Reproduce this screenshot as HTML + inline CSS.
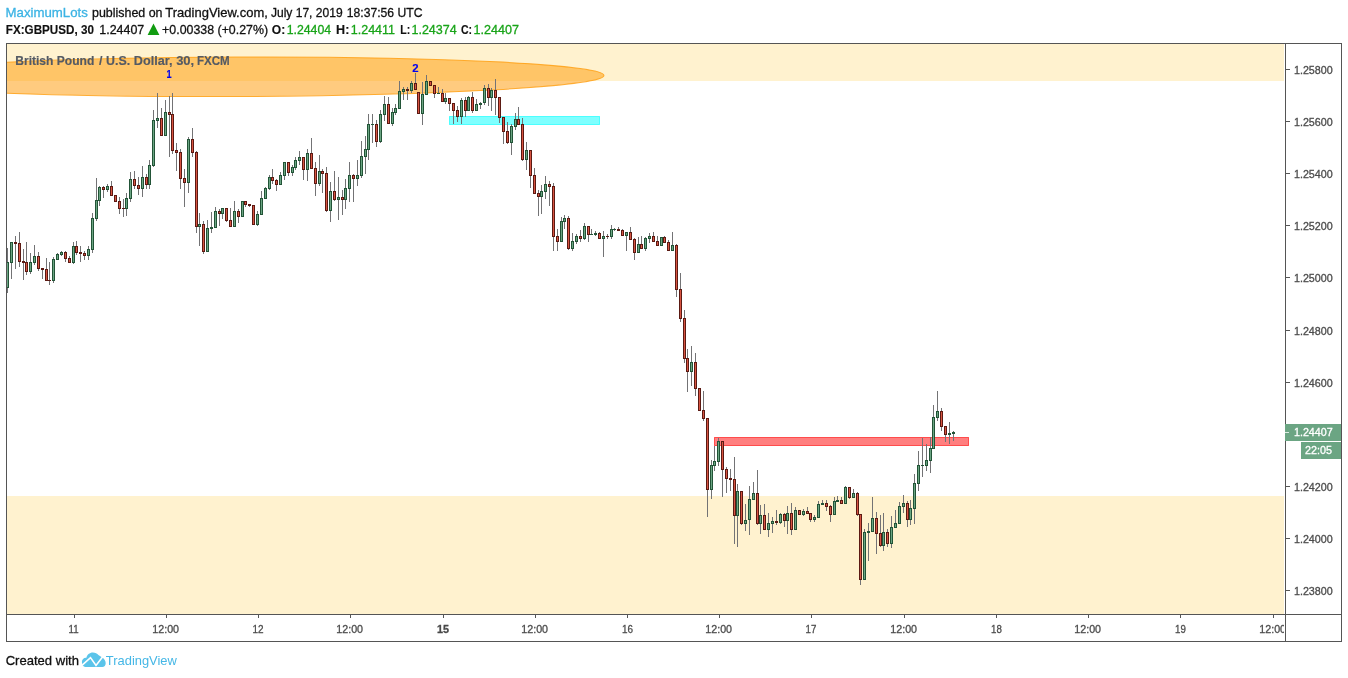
<!DOCTYPE html>
<html><head><meta charset="utf-8"><title>GBPUSD chart</title>
<style>html,body{margin:0;padding:0;background:#fff;}body{width:1348px;height:678px;overflow:hidden;font-family:"Liberation Sans", sans-serif;}svg{display:block;will-change:transform;}text{font-family:"Liberation Sans", sans-serif;}</style>
</head><body>
<svg width="1348" height="678" viewBox="0 0 1348 678">
<rect x="0" y="0" width="1348" height="678" fill="#ffffff"/>
<text x="5.60" y="17.0" font-size="13.3" fill="#3bb3e4" stroke="#3bb3e4" stroke-width="0.3" textLength="82.27" lengthAdjust="spacingAndGlyphs">MaximumLots</text>
<text x="92.00" y="17.0" font-size="13.3" fill="#111111" stroke="#111111" stroke-width="0.3" textLength="70.53" lengthAdjust="spacingAndGlyphs">published on</text>
<text x="165.35" y="17.0" font-size="13.3" fill="#111111" stroke="#111111" stroke-width="0.3" textLength="102.52" lengthAdjust="spacingAndGlyphs">TradingView.com,</text>
<text x="270.90" y="17.0" font-size="13.3" fill="#111111" stroke="#111111" stroke-width="0.3" textLength="71.75" lengthAdjust="spacingAndGlyphs">July 17, 2019</text>
<text x="346.75" y="17.0" font-size="13.3" fill="#111111" stroke="#111111" stroke-width="0.3" textLength="75.76" lengthAdjust="spacingAndGlyphs">18:37:56 UTC</text>
<text x="5.85" y="34.0" font-size="13.3" fill="#111111" font-weight="bold" stroke="#111111" stroke-width="0.15" textLength="88.02" lengthAdjust="spacingAndGlyphs">FX:GBPUSD, 30</text>
<text x="99.25" y="34.0" font-size="13.3" fill="#111111" stroke="#111111" stroke-width="0.3" textLength="45.04" lengthAdjust="spacingAndGlyphs">1.24407</text>
<text x="162.10" y="34.0" font-size="13.3" fill="#111111" stroke="#111111" stroke-width="0.3" textLength="106.01" lengthAdjust="spacingAndGlyphs">+0.00338 (+0.27%)</text>
<text x="271.80" y="34.0" font-size="13.3" fill="#111111" font-weight="bold" stroke="#111111" stroke-width="0.15" textLength="13.40" lengthAdjust="spacingAndGlyphs">O:</text>
<text x="286.65" y="34.0" font-size="13.3" fill="#18a418" stroke="#18a418" stroke-width="0.3" textLength="44.52" lengthAdjust="spacingAndGlyphs">1.24404</text>
<text x="336.05" y="34.0" font-size="13.3" fill="#111111" font-weight="bold" stroke="#111111" stroke-width="0.15" textLength="13.27" lengthAdjust="spacingAndGlyphs">H:</text>
<text x="350.75" y="34.0" font-size="13.3" fill="#18a418" stroke="#18a418" stroke-width="0.3" textLength="44.28" lengthAdjust="spacingAndGlyphs">1.24411</text>
<text x="400.20" y="34.0" font-size="13.3" fill="#111111" font-weight="bold" stroke="#111111" stroke-width="0.15" textLength="9.97" lengthAdjust="spacingAndGlyphs">L:</text>
<text x="411.45" y="34.0" font-size="13.3" fill="#18a418" stroke="#18a418" stroke-width="0.3" textLength="45.27" lengthAdjust="spacingAndGlyphs">1.24374</text>
<text x="460.95" y="34.0" font-size="13.3" fill="#111111" font-weight="bold" stroke="#111111" stroke-width="0.15" textLength="11.11" lengthAdjust="spacingAndGlyphs">C:</text>
<text x="473.45" y="34.0" font-size="13.3" fill="#18a418" stroke="#18a418" stroke-width="0.3" textLength="45.54" lengthAdjust="spacingAndGlyphs">1.24407</text>
<polygon points="147.6,35 159.4,35 153.5,23.6" fill="#119c11"/>
<defs><clipPath id="pane"><rect x="7" y="44" width="1277" height="570"/></clipPath><clipPath id="tclip"><rect x="7" y="615" width="1277" height="26"/></clipPath></defs>
<g clip-path="url(#pane)">
<rect x="7" y="44" width="1278" height="37" fill="#fff2cf"/>
<rect x="7" y="496" width="1278" height="118" fill="#fff2cf"/>
<ellipse cx="235" cy="76.8" rx="369" ry="19.7" transform="rotate(-0.22 235 76.8)" fill="#ff9800" fill-opacity="0.5" stroke="#ff9800" stroke-opacity="0.75" stroke-width="1"/>
<rect x="449.5" y="116.5" width="150" height="8" fill="#00ffff" fill-opacity="0.5" stroke="#00ffff" stroke-opacity="0.6" stroke-width="1"/>
<rect x="714.5" y="437.5" width="254" height="8" fill="#ff0000" fill-opacity="0.5" stroke="#ff0000" stroke-opacity="0.6" stroke-width="1"/>
<g shape-rendering="crispEdges">
<path d="M7 248V293M11 242V279M15 236V269M19 232V267M23 249V280M26 242V275M30 253V274M34 245V265M38 252V271M42 268V279M46 258V281M49 262V285M53 257V283M57 253V260M61 251V256M65 251V262M69 256V263M73 242V264M76 241V255M80 246V262M84 251V260M88 246V260M92 213V253M96 178V221M99 186V206M103 186V198M107 184V192M111 181V196M115 195V202M119 197V214M123 199V217M126 193V216M130 172V202M134 171V189M138 177V195M142 166V197M146 174V189M149 160V189M153 110V167M157 93V128M161 108V136M165 100V136M169 96V157M172 93V154M176 143V171M180 149V189M184 169V207M188 137V193M192 128V157M196 151V233M199 213V246M203 221V254M207 220V252M211 212V233M215 207V228M219 209V226M222 208V219M226 208V222M230 208V227M234 201V227M238 209V223M242 201V217M245 201V207M249 204V207M253 205V225M257 211V226M261 191V215M265 187V199M269 175V190M272 169V184M276 179V191M280 172V185M284 162V180M288 162V176M292 165V176M295 157V170M299 151V165M303 157V180M307 149V181M311 138V169M315 162V196M319 155V186M322 169V193M326 167V212M330 182V222M334 171V201M338 177V220M342 190V215M345 179V209M349 162V202M353 174V202M357 160V186M361 141V178M365 136V174M368 114V160M372 114V143M376 120V147M380 110V143M384 96V121M388 97V124M392 108V126M395 104V115M399 81V109M403 87V100M407 87V100M411 81V93M415 73V90M418 92V114M422 82V125M426 75V95M430 81V86M434 85V98M438 87V94M442 89V102M445 93V104M449 98V111M453 103V124M457 106V122M461 98V124M465 97V117M468 96V111M472 92V113M476 99V111M480 102V109M484 85V105M488 84V106M491 88V111M495 79V115M499 97V123M503 117V144M507 122V144M511 124V155M515 113V130M518 107V125M522 118V161M526 142V170M530 150V188M534 168V194M538 190V216M541 185V214M545 176V199M549 181V206M553 183V251M557 229V251M561 217V242M564 215V229M568 216V250M572 233V251M576 234V244M580 230V242M584 223V240M588 226V242M591 229V235M595 231V236M599 232V239M603 231V257M607 234V239M611 225V239M614 228V231M618 227V231M622 229V236M626 232V251M630 227V240M634 238V260M638 237V253M641 236V249M645 237V251M649 233V243M653 232V242M657 236V246M661 237V246M664 236V243M668 240V251M672 232V251M676 244V297M680 273V322M684 310V363M687 349V392M691 346V386M695 353V396M699 388V411M703 391V421M707 418V517M711 460V499M714 446V471M718 438V466M722 441V497M726 467V493M730 469V491M734 457V544M737 484V547M741 491V525M745 504V531M749 486V535M753 482V500M757 470V525M760 505V534M764 504V530M768 513V537M772 517V533M776 510V525M780 513V524M784 513V527M787 506V534M791 503V535M795 507V530M799 510V515M803 509V516M807 507V514M810 513V522M814 515V522M818 501V518M822 500V505M826 500V511M830 505V522M834 497V515M837 496V502M841 497V504M845 486V504M849 487V499M853 489V498M857 492V516M860 514V585M864 529V580M868 523V561M872 497V532M876 512V554M880 515V547M883 513V551M887 529V547M891 516V548M895 510V528M899 502V524M903 495V513M907 501V527M910 500V525M914 474V524M918 451V491M922 438V477M926 444V471M930 437V473M933 405V449M937 391V421M941 408V431M945 426V442M949 422V444M953 431V441" stroke="#737375" stroke-width="1" fill="none" transform="translate(0.5,0)"/>
<rect x="6" y="262" width="3" height="26" fill="#225437"/>
<rect x="7" y="263" width="1" height="24" fill="#6ba583"/>
<rect x="10" y="242" width="3" height="21" fill="#225437"/>
<rect x="11" y="243" width="1" height="19" fill="#6ba583"/>
<rect x="14" y="242" width="3" height="2" fill="#5b1a13"/>
<rect x="18" y="243" width="3" height="19" fill="#5b1a13"/>
<rect x="19" y="244" width="1" height="17" fill="#d75442"/>
<rect x="22" y="261" width="3" height="2" fill="#5b1a13"/>
<rect x="25" y="262" width="3" height="10" fill="#5b1a13"/>
<rect x="26" y="263" width="1" height="8" fill="#d75442"/>
<rect x="29" y="262" width="3" height="10" fill="#225437"/>
<rect x="30" y="263" width="1" height="8" fill="#6ba583"/>
<rect x="33" y="256" width="3" height="7" fill="#225437"/>
<rect x="34" y="257" width="1" height="5" fill="#6ba583"/>
<rect x="37" y="256" width="3" height="13" fill="#5b1a13"/>
<rect x="38" y="257" width="1" height="11" fill="#d75442"/>
<rect x="41" y="268" width="3" height="2" fill="#5b1a13"/>
<rect x="45" y="269" width="3" height="12" fill="#5b1a13"/>
<rect x="46" y="270" width="1" height="10" fill="#d75442"/>
<rect x="48" y="280" width="3" height="1" fill="#5b1a13"/>
<rect x="52" y="259" width="3" height="22" fill="#225437"/>
<rect x="53" y="260" width="1" height="20" fill="#6ba583"/>
<rect x="56" y="254" width="3" height="6" fill="#225437"/>
<rect x="57" y="255" width="1" height="4" fill="#6ba583"/>
<rect x="60" y="252" width="3" height="3" fill="#225437"/>
<rect x="61" y="253" width="1" height="1" fill="#6ba583"/>
<rect x="64" y="252" width="3" height="7" fill="#5b1a13"/>
<rect x="65" y="253" width="1" height="5" fill="#d75442"/>
<rect x="68" y="258" width="3" height="5" fill="#5b1a13"/>
<rect x="69" y="259" width="1" height="3" fill="#d75442"/>
<rect x="72" y="246" width="3" height="17" fill="#225437"/>
<rect x="73" y="247" width="1" height="15" fill="#6ba583"/>
<rect x="75" y="246" width="3" height="7" fill="#5b1a13"/>
<rect x="76" y="247" width="1" height="5" fill="#d75442"/>
<rect x="79" y="252" width="3" height="2" fill="#5b1a13"/>
<rect x="83" y="253" width="3" height="3" fill="#5b1a13"/>
<rect x="84" y="254" width="1" height="1" fill="#d75442"/>
<rect x="87" y="249" width="3" height="7" fill="#225437"/>
<rect x="88" y="250" width="1" height="5" fill="#6ba583"/>
<rect x="91" y="218" width="3" height="32" fill="#225437"/>
<rect x="92" y="219" width="1" height="30" fill="#6ba583"/>
<rect x="95" y="200" width="3" height="19" fill="#225437"/>
<rect x="96" y="201" width="1" height="17" fill="#6ba583"/>
<rect x="98" y="187" width="3" height="14" fill="#225437"/>
<rect x="99" y="188" width="1" height="12" fill="#6ba583"/>
<rect x="102" y="187" width="3" height="3" fill="#5b1a13"/>
<rect x="103" y="188" width="1" height="1" fill="#d75442"/>
<rect x="106" y="186" width="3" height="4" fill="#225437"/>
<rect x="107" y="187" width="1" height="2" fill="#6ba583"/>
<rect x="110" y="186" width="3" height="10" fill="#5b1a13"/>
<rect x="111" y="187" width="1" height="8" fill="#d75442"/>
<rect x="114" y="195" width="3" height="7" fill="#5b1a13"/>
<rect x="115" y="196" width="1" height="5" fill="#d75442"/>
<rect x="118" y="201" width="3" height="8" fill="#5b1a13"/>
<rect x="119" y="202" width="1" height="6" fill="#d75442"/>
<rect x="122" y="208" width="3" height="1" fill="#5b1a13"/>
<rect x="125" y="198" width="3" height="11" fill="#225437"/>
<rect x="126" y="199" width="1" height="9" fill="#6ba583"/>
<rect x="129" y="179" width="3" height="20" fill="#225437"/>
<rect x="130" y="180" width="1" height="18" fill="#6ba583"/>
<rect x="133" y="179" width="3" height="7" fill="#5b1a13"/>
<rect x="134" y="180" width="1" height="5" fill="#d75442"/>
<rect x="137" y="185" width="3" height="4" fill="#5b1a13"/>
<rect x="138" y="186" width="1" height="2" fill="#d75442"/>
<rect x="141" y="177" width="3" height="12" fill="#225437"/>
<rect x="142" y="178" width="1" height="10" fill="#6ba583"/>
<rect x="145" y="177" width="3" height="8" fill="#5b1a13"/>
<rect x="146" y="178" width="1" height="6" fill="#d75442"/>
<rect x="148" y="165" width="3" height="20" fill="#225437"/>
<rect x="149" y="166" width="1" height="18" fill="#6ba583"/>
<rect x="152" y="120" width="3" height="46" fill="#225437"/>
<rect x="153" y="121" width="1" height="44" fill="#6ba583"/>
<rect x="156" y="118" width="3" height="3" fill="#225437"/>
<rect x="157" y="119" width="1" height="1" fill="#6ba583"/>
<rect x="160" y="118" width="3" height="18" fill="#5b1a13"/>
<rect x="161" y="119" width="1" height="16" fill="#d75442"/>
<rect x="164" y="112" width="3" height="24" fill="#225437"/>
<rect x="165" y="113" width="1" height="22" fill="#6ba583"/>
<rect x="168" y="112" width="3" height="3" fill="#5b1a13"/>
<rect x="169" y="113" width="1" height="1" fill="#d75442"/>
<rect x="171" y="114" width="3" height="37" fill="#5b1a13"/>
<rect x="172" y="115" width="1" height="35" fill="#d75442"/>
<rect x="175" y="150" width="3" height="3" fill="#5b1a13"/>
<rect x="176" y="151" width="1" height="1" fill="#d75442"/>
<rect x="179" y="152" width="3" height="27" fill="#5b1a13"/>
<rect x="180" y="153" width="1" height="25" fill="#d75442"/>
<rect x="183" y="178" width="3" height="5" fill="#5b1a13"/>
<rect x="184" y="179" width="1" height="3" fill="#d75442"/>
<rect x="187" y="139" width="3" height="44" fill="#225437"/>
<rect x="188" y="140" width="1" height="42" fill="#6ba583"/>
<rect x="191" y="139" width="3" height="14" fill="#5b1a13"/>
<rect x="192" y="140" width="1" height="12" fill="#d75442"/>
<rect x="195" y="152" width="3" height="75" fill="#5b1a13"/>
<rect x="196" y="153" width="1" height="73" fill="#d75442"/>
<rect x="198" y="224" width="3" height="3" fill="#225437"/>
<rect x="199" y="225" width="1" height="1" fill="#6ba583"/>
<rect x="202" y="224" width="3" height="28" fill="#5b1a13"/>
<rect x="203" y="225" width="1" height="26" fill="#d75442"/>
<rect x="206" y="228" width="3" height="24" fill="#225437"/>
<rect x="207" y="229" width="1" height="22" fill="#6ba583"/>
<rect x="210" y="227" width="3" height="2" fill="#225437"/>
<rect x="214" y="211" width="3" height="17" fill="#225437"/>
<rect x="215" y="212" width="1" height="15" fill="#6ba583"/>
<rect x="218" y="211" width="3" height="3" fill="#5b1a13"/>
<rect x="219" y="212" width="1" height="1" fill="#d75442"/>
<rect x="221" y="208" width="3" height="6" fill="#225437"/>
<rect x="222" y="209" width="1" height="4" fill="#6ba583"/>
<rect x="225" y="208" width="3" height="13" fill="#5b1a13"/>
<rect x="226" y="209" width="1" height="11" fill="#d75442"/>
<rect x="229" y="220" width="3" height="7" fill="#5b1a13"/>
<rect x="230" y="221" width="1" height="5" fill="#d75442"/>
<rect x="233" y="211" width="3" height="16" fill="#225437"/>
<rect x="234" y="212" width="1" height="14" fill="#6ba583"/>
<rect x="237" y="211" width="3" height="6" fill="#5b1a13"/>
<rect x="238" y="212" width="1" height="4" fill="#d75442"/>
<rect x="241" y="201" width="3" height="16" fill="#225437"/>
<rect x="242" y="202" width="1" height="14" fill="#6ba583"/>
<rect x="244" y="201" width="3" height="4" fill="#5b1a13"/>
<rect x="245" y="202" width="1" height="2" fill="#d75442"/>
<rect x="248" y="204" width="3" height="2" fill="#5b1a13"/>
<rect x="252" y="205" width="3" height="20" fill="#5b1a13"/>
<rect x="253" y="206" width="1" height="18" fill="#d75442"/>
<rect x="256" y="214" width="3" height="11" fill="#225437"/>
<rect x="257" y="215" width="1" height="9" fill="#6ba583"/>
<rect x="260" y="198" width="3" height="17" fill="#225437"/>
<rect x="261" y="199" width="1" height="15" fill="#6ba583"/>
<rect x="264" y="188" width="3" height="11" fill="#225437"/>
<rect x="265" y="189" width="1" height="9" fill="#6ba583"/>
<rect x="268" y="177" width="3" height="12" fill="#225437"/>
<rect x="269" y="178" width="1" height="10" fill="#6ba583"/>
<rect x="271" y="177" width="3" height="4" fill="#5b1a13"/>
<rect x="272" y="178" width="1" height="2" fill="#d75442"/>
<rect x="275" y="180" width="3" height="5" fill="#5b1a13"/>
<rect x="276" y="181" width="1" height="3" fill="#d75442"/>
<rect x="279" y="175" width="3" height="10" fill="#225437"/>
<rect x="280" y="176" width="1" height="8" fill="#6ba583"/>
<rect x="283" y="162" width="3" height="14" fill="#225437"/>
<rect x="284" y="163" width="1" height="12" fill="#6ba583"/>
<rect x="287" y="162" width="3" height="11" fill="#5b1a13"/>
<rect x="288" y="163" width="1" height="9" fill="#d75442"/>
<rect x="291" y="167" width="3" height="6" fill="#225437"/>
<rect x="292" y="168" width="1" height="4" fill="#6ba583"/>
<rect x="294" y="160" width="3" height="8" fill="#225437"/>
<rect x="295" y="161" width="1" height="6" fill="#6ba583"/>
<rect x="298" y="157" width="3" height="4" fill="#225437"/>
<rect x="299" y="158" width="1" height="2" fill="#6ba583"/>
<rect x="302" y="157" width="3" height="13" fill="#5b1a13"/>
<rect x="303" y="158" width="1" height="11" fill="#d75442"/>
<rect x="306" y="153" width="3" height="17" fill="#225437"/>
<rect x="307" y="154" width="1" height="15" fill="#6ba583"/>
<rect x="310" y="153" width="3" height="16" fill="#5b1a13"/>
<rect x="311" y="154" width="1" height="14" fill="#d75442"/>
<rect x="314" y="168" width="3" height="16" fill="#5b1a13"/>
<rect x="315" y="169" width="1" height="14" fill="#d75442"/>
<rect x="318" y="171" width="3" height="13" fill="#225437"/>
<rect x="319" y="172" width="1" height="11" fill="#6ba583"/>
<rect x="321" y="171" width="3" height="3" fill="#5b1a13"/>
<rect x="322" y="172" width="1" height="1" fill="#d75442"/>
<rect x="325" y="173" width="3" height="38" fill="#5b1a13"/>
<rect x="326" y="174" width="1" height="36" fill="#d75442"/>
<rect x="329" y="191" width="3" height="20" fill="#225437"/>
<rect x="330" y="192" width="1" height="18" fill="#6ba583"/>
<rect x="333" y="191" width="3" height="9" fill="#5b1a13"/>
<rect x="334" y="192" width="1" height="7" fill="#d75442"/>
<rect x="337" y="197" width="3" height="3" fill="#225437"/>
<rect x="338" y="198" width="1" height="1" fill="#6ba583"/>
<rect x="341" y="197" width="3" height="3" fill="#5b1a13"/>
<rect x="342" y="198" width="1" height="1" fill="#d75442"/>
<rect x="344" y="188" width="3" height="12" fill="#225437"/>
<rect x="345" y="189" width="1" height="10" fill="#6ba583"/>
<rect x="348" y="175" width="3" height="14" fill="#225437"/>
<rect x="349" y="176" width="1" height="12" fill="#6ba583"/>
<rect x="352" y="175" width="3" height="4" fill="#5b1a13"/>
<rect x="353" y="176" width="1" height="2" fill="#d75442"/>
<rect x="356" y="175" width="3" height="4" fill="#225437"/>
<rect x="357" y="176" width="1" height="2" fill="#6ba583"/>
<rect x="360" y="156" width="3" height="20" fill="#225437"/>
<rect x="361" y="157" width="1" height="18" fill="#6ba583"/>
<rect x="364" y="149" width="3" height="8" fill="#225437"/>
<rect x="365" y="150" width="1" height="6" fill="#6ba583"/>
<rect x="367" y="124" width="3" height="26" fill="#225437"/>
<rect x="368" y="125" width="1" height="24" fill="#6ba583"/>
<rect x="371" y="124" width="3" height="1" fill="#225437"/>
<rect x="375" y="124" width="3" height="18" fill="#5b1a13"/>
<rect x="376" y="125" width="1" height="16" fill="#d75442"/>
<rect x="379" y="114" width="3" height="28" fill="#225437"/>
<rect x="380" y="115" width="1" height="26" fill="#6ba583"/>
<rect x="383" y="104" width="3" height="11" fill="#225437"/>
<rect x="384" y="105" width="1" height="9" fill="#6ba583"/>
<rect x="387" y="104" width="3" height="20" fill="#5b1a13"/>
<rect x="388" y="105" width="1" height="18" fill="#d75442"/>
<rect x="391" y="112" width="3" height="12" fill="#225437"/>
<rect x="392" y="113" width="1" height="10" fill="#6ba583"/>
<rect x="394" y="108" width="3" height="5" fill="#225437"/>
<rect x="395" y="109" width="1" height="3" fill="#6ba583"/>
<rect x="398" y="91" width="3" height="18" fill="#225437"/>
<rect x="399" y="92" width="1" height="16" fill="#6ba583"/>
<rect x="402" y="89" width="3" height="3" fill="#225437"/>
<rect x="403" y="90" width="1" height="1" fill="#6ba583"/>
<rect x="406" y="89" width="3" height="2" fill="#5b1a13"/>
<rect x="410" y="83" width="3" height="8" fill="#225437"/>
<rect x="411" y="84" width="1" height="6" fill="#6ba583"/>
<rect x="414" y="83" width="3" height="7" fill="#5b1a13"/>
<rect x="415" y="84" width="1" height="5" fill="#d75442"/>
<rect x="417" y="92" width="3" height="22" fill="#5b1a13"/>
<rect x="418" y="93" width="1" height="20" fill="#d75442"/>
<rect x="421" y="94" width="3" height="20" fill="#225437"/>
<rect x="422" y="95" width="1" height="18" fill="#6ba583"/>
<rect x="425" y="81" width="3" height="14" fill="#225437"/>
<rect x="426" y="82" width="1" height="12" fill="#6ba583"/>
<rect x="429" y="81" width="3" height="5" fill="#5b1a13"/>
<rect x="430" y="82" width="1" height="3" fill="#d75442"/>
<rect x="433" y="85" width="3" height="9" fill="#5b1a13"/>
<rect x="434" y="86" width="1" height="7" fill="#d75442"/>
<rect x="437" y="93" width="3" height="1" fill="#225437"/>
<rect x="441" y="93" width="3" height="9" fill="#5b1a13"/>
<rect x="442" y="94" width="1" height="7" fill="#d75442"/>
<rect x="444" y="98" width="3" height="4" fill="#225437"/>
<rect x="445" y="99" width="1" height="2" fill="#6ba583"/>
<rect x="448" y="98" width="3" height="6" fill="#5b1a13"/>
<rect x="449" y="99" width="1" height="4" fill="#d75442"/>
<rect x="452" y="103" width="3" height="8" fill="#5b1a13"/>
<rect x="453" y="104" width="1" height="6" fill="#d75442"/>
<rect x="456" y="110" width="3" height="7" fill="#5b1a13"/>
<rect x="457" y="111" width="1" height="5" fill="#d75442"/>
<rect x="460" y="100" width="3" height="17" fill="#225437"/>
<rect x="461" y="101" width="1" height="15" fill="#6ba583"/>
<rect x="464" y="100" width="3" height="11" fill="#5b1a13"/>
<rect x="465" y="101" width="1" height="9" fill="#d75442"/>
<rect x="467" y="97" width="3" height="14" fill="#225437"/>
<rect x="468" y="98" width="1" height="12" fill="#6ba583"/>
<rect x="471" y="97" width="3" height="14" fill="#5b1a13"/>
<rect x="472" y="98" width="1" height="12" fill="#d75442"/>
<rect x="475" y="104" width="3" height="7" fill="#225437"/>
<rect x="476" y="105" width="1" height="5" fill="#6ba583"/>
<rect x="479" y="103" width="3" height="2" fill="#225437"/>
<rect x="483" y="88" width="3" height="15" fill="#225437"/>
<rect x="484" y="89" width="1" height="13" fill="#6ba583"/>
<rect x="487" y="88" width="3" height="10" fill="#5b1a13"/>
<rect x="488" y="89" width="1" height="8" fill="#d75442"/>
<rect x="490" y="90" width="3" height="8" fill="#225437"/>
<rect x="491" y="91" width="1" height="6" fill="#6ba583"/>
<rect x="494" y="90" width="3" height="8" fill="#5b1a13"/>
<rect x="495" y="91" width="1" height="6" fill="#d75442"/>
<rect x="498" y="97" width="3" height="21" fill="#5b1a13"/>
<rect x="499" y="98" width="1" height="19" fill="#d75442"/>
<rect x="502" y="117" width="3" height="15" fill="#5b1a13"/>
<rect x="503" y="118" width="1" height="13" fill="#d75442"/>
<rect x="506" y="131" width="3" height="12" fill="#5b1a13"/>
<rect x="507" y="132" width="1" height="10" fill="#d75442"/>
<rect x="510" y="126" width="3" height="17" fill="#225437"/>
<rect x="511" y="127" width="1" height="15" fill="#6ba583"/>
<rect x="514" y="119" width="3" height="8" fill="#225437"/>
<rect x="515" y="120" width="1" height="6" fill="#6ba583"/>
<rect x="517" y="119" width="3" height="6" fill="#5b1a13"/>
<rect x="518" y="120" width="1" height="4" fill="#d75442"/>
<rect x="521" y="124" width="3" height="36" fill="#5b1a13"/>
<rect x="522" y="125" width="1" height="34" fill="#d75442"/>
<rect x="525" y="150" width="3" height="10" fill="#225437"/>
<rect x="526" y="151" width="1" height="8" fill="#6ba583"/>
<rect x="529" y="150" width="3" height="26" fill="#5b1a13"/>
<rect x="530" y="151" width="1" height="24" fill="#d75442"/>
<rect x="533" y="175" width="3" height="19" fill="#5b1a13"/>
<rect x="534" y="176" width="1" height="17" fill="#d75442"/>
<rect x="537" y="193" width="3" height="4" fill="#5b1a13"/>
<rect x="538" y="194" width="1" height="2" fill="#d75442"/>
<rect x="540" y="191" width="3" height="6" fill="#225437"/>
<rect x="541" y="192" width="1" height="4" fill="#6ba583"/>
<rect x="544" y="184" width="3" height="8" fill="#225437"/>
<rect x="545" y="185" width="1" height="6" fill="#6ba583"/>
<rect x="548" y="184" width="3" height="3" fill="#5b1a13"/>
<rect x="549" y="185" width="1" height="1" fill="#d75442"/>
<rect x="552" y="186" width="3" height="51" fill="#5b1a13"/>
<rect x="553" y="187" width="1" height="49" fill="#d75442"/>
<rect x="556" y="236" width="3" height="6" fill="#5b1a13"/>
<rect x="557" y="237" width="1" height="4" fill="#d75442"/>
<rect x="560" y="221" width="3" height="21" fill="#225437"/>
<rect x="561" y="222" width="1" height="19" fill="#6ba583"/>
<rect x="563" y="218" width="3" height="4" fill="#225437"/>
<rect x="564" y="219" width="1" height="2" fill="#6ba583"/>
<rect x="567" y="218" width="3" height="31" fill="#5b1a13"/>
<rect x="568" y="219" width="1" height="29" fill="#d75442"/>
<rect x="571" y="241" width="3" height="8" fill="#225437"/>
<rect x="572" y="242" width="1" height="6" fill="#6ba583"/>
<rect x="575" y="236" width="3" height="6" fill="#225437"/>
<rect x="576" y="237" width="1" height="4" fill="#6ba583"/>
<rect x="579" y="236" width="3" height="3" fill="#5b1a13"/>
<rect x="580" y="237" width="1" height="1" fill="#d75442"/>
<rect x="583" y="226" width="3" height="13" fill="#225437"/>
<rect x="584" y="227" width="1" height="11" fill="#6ba583"/>
<rect x="587" y="226" width="3" height="9" fill="#5b1a13"/>
<rect x="588" y="227" width="1" height="7" fill="#d75442"/>
<rect x="590" y="234" width="3" height="1" fill="#225437"/>
<rect x="594" y="233" width="3" height="2" fill="#225437"/>
<rect x="598" y="233" width="3" height="6" fill="#5b1a13"/>
<rect x="599" y="234" width="1" height="4" fill="#d75442"/>
<rect x="602" y="236" width="3" height="3" fill="#225437"/>
<rect x="603" y="237" width="1" height="1" fill="#6ba583"/>
<rect x="606" y="236" width="3" height="1" fill="#5b1a13"/>
<rect x="610" y="229" width="3" height="8" fill="#225437"/>
<rect x="611" y="230" width="1" height="6" fill="#6ba583"/>
<rect x="613" y="229" width="3" height="1" fill="#225437"/>
<rect x="617" y="229" width="3" height="2" fill="#5b1a13"/>
<rect x="621" y="230" width="3" height="6" fill="#5b1a13"/>
<rect x="622" y="231" width="1" height="4" fill="#d75442"/>
<rect x="625" y="232" width="3" height="4" fill="#225437"/>
<rect x="626" y="233" width="1" height="2" fill="#6ba583"/>
<rect x="629" y="232" width="3" height="8" fill="#5b1a13"/>
<rect x="630" y="233" width="1" height="6" fill="#d75442"/>
<rect x="633" y="239" width="3" height="14" fill="#5b1a13"/>
<rect x="634" y="240" width="1" height="12" fill="#d75442"/>
<rect x="637" y="244" width="3" height="9" fill="#225437"/>
<rect x="638" y="245" width="1" height="7" fill="#6ba583"/>
<rect x="640" y="244" width="3" height="5" fill="#5b1a13"/>
<rect x="641" y="245" width="1" height="3" fill="#d75442"/>
<rect x="644" y="238" width="3" height="11" fill="#225437"/>
<rect x="645" y="239" width="1" height="9" fill="#6ba583"/>
<rect x="648" y="236" width="3" height="3" fill="#225437"/>
<rect x="649" y="237" width="1" height="1" fill="#6ba583"/>
<rect x="652" y="236" width="3" height="6" fill="#5b1a13"/>
<rect x="653" y="237" width="1" height="4" fill="#d75442"/>
<rect x="656" y="241" width="3" height="5" fill="#5b1a13"/>
<rect x="657" y="242" width="1" height="3" fill="#d75442"/>
<rect x="660" y="237" width="3" height="9" fill="#225437"/>
<rect x="661" y="238" width="1" height="7" fill="#6ba583"/>
<rect x="663" y="237" width="3" height="6" fill="#5b1a13"/>
<rect x="664" y="238" width="1" height="4" fill="#d75442"/>
<rect x="667" y="242" width="3" height="9" fill="#5b1a13"/>
<rect x="668" y="243" width="1" height="7" fill="#d75442"/>
<rect x="671" y="245" width="3" height="6" fill="#225437"/>
<rect x="672" y="246" width="1" height="4" fill="#6ba583"/>
<rect x="675" y="245" width="3" height="45" fill="#5b1a13"/>
<rect x="676" y="246" width="1" height="43" fill="#d75442"/>
<rect x="679" y="289" width="3" height="30" fill="#5b1a13"/>
<rect x="680" y="290" width="1" height="28" fill="#d75442"/>
<rect x="683" y="318" width="3" height="41" fill="#5b1a13"/>
<rect x="684" y="319" width="1" height="39" fill="#d75442"/>
<rect x="686" y="358" width="3" height="14" fill="#5b1a13"/>
<rect x="687" y="359" width="1" height="12" fill="#d75442"/>
<rect x="690" y="362" width="3" height="10" fill="#225437"/>
<rect x="691" y="363" width="1" height="8" fill="#6ba583"/>
<rect x="694" y="362" width="3" height="27" fill="#5b1a13"/>
<rect x="695" y="363" width="1" height="25" fill="#d75442"/>
<rect x="698" y="388" width="3" height="23" fill="#5b1a13"/>
<rect x="699" y="389" width="1" height="21" fill="#d75442"/>
<rect x="702" y="410" width="3" height="9" fill="#5b1a13"/>
<rect x="703" y="411" width="1" height="7" fill="#d75442"/>
<rect x="706" y="418" width="3" height="72" fill="#5b1a13"/>
<rect x="707" y="419" width="1" height="70" fill="#d75442"/>
<rect x="710" y="465" width="3" height="25" fill="#225437"/>
<rect x="711" y="466" width="1" height="23" fill="#6ba583"/>
<rect x="713" y="461" width="3" height="5" fill="#225437"/>
<rect x="714" y="462" width="1" height="3" fill="#6ba583"/>
<rect x="717" y="441" width="3" height="21" fill="#225437"/>
<rect x="718" y="442" width="1" height="19" fill="#6ba583"/>
<rect x="721" y="441" width="3" height="29" fill="#5b1a13"/>
<rect x="722" y="442" width="1" height="27" fill="#d75442"/>
<rect x="725" y="469" width="3" height="10" fill="#5b1a13"/>
<rect x="726" y="470" width="1" height="8" fill="#d75442"/>
<rect x="729" y="478" width="3" height="2" fill="#5b1a13"/>
<rect x="733" y="479" width="3" height="37" fill="#5b1a13"/>
<rect x="734" y="480" width="1" height="35" fill="#d75442"/>
<rect x="736" y="491" width="3" height="25" fill="#225437"/>
<rect x="737" y="492" width="1" height="23" fill="#6ba583"/>
<rect x="740" y="491" width="3" height="33" fill="#5b1a13"/>
<rect x="741" y="492" width="1" height="31" fill="#d75442"/>
<rect x="744" y="520" width="3" height="4" fill="#225437"/>
<rect x="745" y="521" width="1" height="2" fill="#6ba583"/>
<rect x="748" y="499" width="3" height="21" fill="#225437"/>
<rect x="749" y="500" width="1" height="19" fill="#6ba583"/>
<rect x="752" y="493" width="3" height="7" fill="#225437"/>
<rect x="753" y="494" width="1" height="5" fill="#6ba583"/>
<rect x="756" y="493" width="3" height="31" fill="#5b1a13"/>
<rect x="757" y="494" width="1" height="29" fill="#d75442"/>
<rect x="759" y="515" width="3" height="9" fill="#225437"/>
<rect x="760" y="516" width="1" height="7" fill="#6ba583"/>
<rect x="763" y="515" width="3" height="15" fill="#5b1a13"/>
<rect x="764" y="516" width="1" height="13" fill="#d75442"/>
<rect x="767" y="523" width="3" height="7" fill="#225437"/>
<rect x="768" y="524" width="1" height="5" fill="#6ba583"/>
<rect x="771" y="521" width="3" height="3" fill="#225437"/>
<rect x="772" y="522" width="1" height="1" fill="#6ba583"/>
<rect x="775" y="521" width="3" height="2" fill="#5b1a13"/>
<rect x="779" y="514" width="3" height="9" fill="#225437"/>
<rect x="780" y="515" width="1" height="7" fill="#6ba583"/>
<rect x="783" y="514" width="3" height="7" fill="#5b1a13"/>
<rect x="784" y="515" width="1" height="5" fill="#d75442"/>
<rect x="786" y="513" width="3" height="8" fill="#225437"/>
<rect x="787" y="514" width="1" height="6" fill="#6ba583"/>
<rect x="790" y="513" width="3" height="17" fill="#5b1a13"/>
<rect x="791" y="514" width="1" height="15" fill="#d75442"/>
<rect x="794" y="510" width="3" height="20" fill="#225437"/>
<rect x="795" y="511" width="1" height="18" fill="#6ba583"/>
<rect x="798" y="510" width="3" height="5" fill="#5b1a13"/>
<rect x="799" y="511" width="1" height="3" fill="#d75442"/>
<rect x="802" y="511" width="3" height="4" fill="#225437"/>
<rect x="803" y="512" width="1" height="2" fill="#6ba583"/>
<rect x="806" y="511" width="3" height="3" fill="#5b1a13"/>
<rect x="807" y="512" width="1" height="1" fill="#d75442"/>
<rect x="809" y="513" width="3" height="7" fill="#5b1a13"/>
<rect x="810" y="514" width="1" height="5" fill="#d75442"/>
<rect x="813" y="517" width="3" height="3" fill="#225437"/>
<rect x="814" y="518" width="1" height="1" fill="#6ba583"/>
<rect x="817" y="504" width="3" height="14" fill="#225437"/>
<rect x="818" y="505" width="1" height="12" fill="#6ba583"/>
<rect x="821" y="503" width="3" height="2" fill="#225437"/>
<rect x="825" y="503" width="3" height="4" fill="#5b1a13"/>
<rect x="826" y="504" width="1" height="2" fill="#d75442"/>
<rect x="829" y="506" width="3" height="9" fill="#5b1a13"/>
<rect x="830" y="507" width="1" height="7" fill="#d75442"/>
<rect x="833" y="501" width="3" height="14" fill="#225437"/>
<rect x="834" y="502" width="1" height="12" fill="#6ba583"/>
<rect x="836" y="500" width="3" height="2" fill="#225437"/>
<rect x="840" y="500" width="3" height="4" fill="#5b1a13"/>
<rect x="841" y="501" width="1" height="2" fill="#d75442"/>
<rect x="844" y="487" width="3" height="17" fill="#225437"/>
<rect x="845" y="488" width="1" height="15" fill="#6ba583"/>
<rect x="848" y="487" width="3" height="11" fill="#5b1a13"/>
<rect x="849" y="488" width="1" height="9" fill="#d75442"/>
<rect x="852" y="493" width="3" height="5" fill="#225437"/>
<rect x="853" y="494" width="1" height="3" fill="#6ba583"/>
<rect x="856" y="493" width="3" height="22" fill="#5b1a13"/>
<rect x="857" y="494" width="1" height="20" fill="#d75442"/>
<rect x="859" y="514" width="3" height="66" fill="#5b1a13"/>
<rect x="860" y="515" width="1" height="64" fill="#d75442"/>
<rect x="863" y="532" width="3" height="48" fill="#225437"/>
<rect x="864" y="533" width="1" height="46" fill="#6ba583"/>
<rect x="867" y="531" width="3" height="2" fill="#225437"/>
<rect x="871" y="518" width="3" height="14" fill="#225437"/>
<rect x="872" y="519" width="1" height="12" fill="#6ba583"/>
<rect x="875" y="518" width="3" height="16" fill="#5b1a13"/>
<rect x="876" y="519" width="1" height="14" fill="#d75442"/>
<rect x="879" y="533" width="3" height="13" fill="#5b1a13"/>
<rect x="880" y="534" width="1" height="11" fill="#d75442"/>
<rect x="882" y="532" width="3" height="14" fill="#225437"/>
<rect x="883" y="533" width="1" height="12" fill="#6ba583"/>
<rect x="886" y="532" width="3" height="12" fill="#5b1a13"/>
<rect x="887" y="533" width="1" height="10" fill="#d75442"/>
<rect x="890" y="527" width="3" height="17" fill="#225437"/>
<rect x="891" y="528" width="1" height="15" fill="#6ba583"/>
<rect x="894" y="523" width="3" height="5" fill="#225437"/>
<rect x="895" y="524" width="1" height="3" fill="#6ba583"/>
<rect x="898" y="506" width="3" height="18" fill="#225437"/>
<rect x="899" y="507" width="1" height="16" fill="#6ba583"/>
<rect x="902" y="503" width="3" height="4" fill="#225437"/>
<rect x="903" y="504" width="1" height="2" fill="#6ba583"/>
<rect x="906" y="503" width="3" height="17" fill="#5b1a13"/>
<rect x="907" y="504" width="1" height="15" fill="#d75442"/>
<rect x="909" y="508" width="3" height="12" fill="#225437"/>
<rect x="910" y="509" width="1" height="10" fill="#6ba583"/>
<rect x="913" y="483" width="3" height="26" fill="#225437"/>
<rect x="914" y="484" width="1" height="24" fill="#6ba583"/>
<rect x="917" y="465" width="3" height="19" fill="#225437"/>
<rect x="918" y="466" width="1" height="17" fill="#6ba583"/>
<rect x="921" y="465" width="3" height="1" fill="#225437"/>
<rect x="925" y="460" width="3" height="6" fill="#225437"/>
<rect x="926" y="461" width="1" height="4" fill="#6ba583"/>
<rect x="929" y="448" width="3" height="13" fill="#225437"/>
<rect x="930" y="449" width="1" height="11" fill="#6ba583"/>
<rect x="932" y="417" width="3" height="32" fill="#225437"/>
<rect x="933" y="418" width="1" height="30" fill="#6ba583"/>
<rect x="936" y="411" width="3" height="7" fill="#225437"/>
<rect x="937" y="412" width="1" height="5" fill="#6ba583"/>
<rect x="940" y="411" width="3" height="16" fill="#5b1a13"/>
<rect x="941" y="412" width="1" height="14" fill="#d75442"/>
<rect x="944" y="426" width="3" height="9" fill="#5b1a13"/>
<rect x="945" y="427" width="1" height="7" fill="#d75442"/>
<rect x="948" y="433" width="3" height="2" fill="#225437"/>
<rect x="952" y="432" width="3" height="2" fill="#225437"/>
</g>
<text x="15.25" y="65.0" font-size="12" fill="#545a64" font-weight="bold" stroke="#545a64" stroke-width="0.15" textLength="79.03" lengthAdjust="spacingAndGlyphs">British Pound</text>
<text x="99.10" y="65.0" font-size="12" fill="#545a64" font-weight="bold" stroke="#545a64" stroke-width="0.15" textLength="31.02" lengthAdjust="spacingAndGlyphs">/ U.S.</text>
<text x="133.85" y="65.0" font-size="12" fill="#545a64" font-weight="bold" stroke="#545a64" stroke-width="0.15" textLength="38.55" lengthAdjust="spacingAndGlyphs">Dollar,</text>
<text x="176.15" y="65.0" font-size="12" fill="#545a64" font-weight="bold" stroke="#545a64" stroke-width="0.15" textLength="18.06" lengthAdjust="spacingAndGlyphs">30,</text>
<text x="196.95" y="65.0" font-size="12" fill="#545a64" font-weight="bold" stroke="#545a64" stroke-width="0.15" textLength="32.81" lengthAdjust="spacingAndGlyphs">FXCM</text>
<text x="166.40" y="78.0" font-size="11.5" fill="#0000f0" font-weight="bold" stroke="#0000f0" stroke-width="0.15" textLength="5.12" lengthAdjust="spacingAndGlyphs">1</text>
<text x="412.15" y="72.0" font-size="11.5" fill="#0000f0" font-weight="bold" stroke="#0000f0" stroke-width="0.15" textLength="6.30" lengthAdjust="spacingAndGlyphs">2</text>
</g>
<g shape-rendering="crispEdges" fill="#555555">
<rect x="6" y="43" width="1336" height="1"/>
<rect x="6" y="641" width="1336" height="1"/>
<rect x="6" y="43" width="1" height="599"/>
<rect x="1341" y="43" width="1" height="599"/>
<rect x="1285" y="43" width="1" height="599"/>
<rect x="6" y="614" width="1336" height="1"/>
<rect x="1286" y="69" width="4" height="1"/>
<rect x="1286" y="121" width="4" height="1"/>
<rect x="1286" y="173" width="4" height="1"/>
<rect x="1286" y="225" width="4" height="1"/>
<rect x="1286" y="277" width="4" height="1"/>
<rect x="1286" y="330" width="4" height="1"/>
<rect x="1286" y="382" width="4" height="1"/>
<rect x="1286" y="434" width="4" height="1"/>
<rect x="1286" y="486" width="4" height="1"/>
<rect x="1286" y="538" width="4" height="1"/>
<rect x="1286" y="590" width="4" height="1"/>
<rect x="74" y="615" width="1" height="3"/>
<rect x="166" y="615" width="1" height="3"/>
<rect x="258" y="615" width="1" height="3"/>
<rect x="350" y="615" width="1" height="3"/>
<rect x="443" y="615" width="1" height="3"/>
<rect x="535" y="615" width="1" height="3"/>
<rect x="627" y="615" width="1" height="3"/>
<rect x="719" y="615" width="1" height="3"/>
<rect x="811" y="615" width="1" height="3"/>
<rect x="904" y="615" width="1" height="3"/>
<rect x="996" y="615" width="1" height="3"/>
<rect x="1088" y="615" width="1" height="3"/>
<rect x="1180" y="615" width="1" height="3"/>
<rect x="1273" y="615" width="1" height="3"/>
</g>
<text x="1293.95" y="74.0" font-size="11" fill="#4c4c4c" stroke="#4c4c4c" stroke-width="0.3" textLength="38.78" lengthAdjust="spacingAndGlyphs">1.25800</text>
<text x="1293.95" y="126.0" font-size="11" fill="#4c4c4c" stroke="#4c4c4c" stroke-width="0.3" textLength="38.78" lengthAdjust="spacingAndGlyphs">1.25600</text>
<text x="1293.95" y="178.0" font-size="11" fill="#4c4c4c" stroke="#4c4c4c" stroke-width="0.3" textLength="38.78" lengthAdjust="spacingAndGlyphs">1.25400</text>
<text x="1293.95" y="230.0" font-size="11" fill="#4c4c4c" stroke="#4c4c4c" stroke-width="0.3" textLength="38.78" lengthAdjust="spacingAndGlyphs">1.25200</text>
<text x="1293.95" y="282.0" font-size="11" fill="#4c4c4c" stroke="#4c4c4c" stroke-width="0.3" textLength="38.78" lengthAdjust="spacingAndGlyphs">1.25000</text>
<text x="1293.95" y="335.0" font-size="11" fill="#4c4c4c" stroke="#4c4c4c" stroke-width="0.3" textLength="38.78" lengthAdjust="spacingAndGlyphs">1.24800</text>
<text x="1293.95" y="387.0" font-size="11" fill="#4c4c4c" stroke="#4c4c4c" stroke-width="0.3" textLength="38.78" lengthAdjust="spacingAndGlyphs">1.24600</text>
<text x="1293.95" y="491.0" font-size="11" fill="#4c4c4c" stroke="#4c4c4c" stroke-width="0.3" textLength="38.78" lengthAdjust="spacingAndGlyphs">1.24200</text>
<text x="1293.95" y="543.0" font-size="11" fill="#4c4c4c" stroke="#4c4c4c" stroke-width="0.3" textLength="38.78" lengthAdjust="spacingAndGlyphs">1.24000</text>
<text x="1293.95" y="595.0" font-size="11" fill="#4c4c4c" stroke="#4c4c4c" stroke-width="0.3" textLength="38.78" lengthAdjust="spacingAndGlyphs">1.23800</text>
<g clip-path="url(#tclip)">
<text x="68.50" y="633.0" font-size="11" fill="#4c4c4c" stroke="#4c4c4c" stroke-width="0.3" textLength="10.07" lengthAdjust="spacingAndGlyphs">11</text>
<text x="152.25" y="633.0" font-size="11" fill="#4c4c4c" stroke="#4c4c4c" stroke-width="0.3" textLength="26.79" lengthAdjust="spacingAndGlyphs">12:00</text>
<text x="252.40" y="633.0" font-size="11" fill="#4c4c4c" stroke="#4c4c4c" stroke-width="0.3" textLength="11.06" lengthAdjust="spacingAndGlyphs">12</text>
<text x="336.25" y="633.0" font-size="11" fill="#4c4c4c" stroke="#4c4c4c" stroke-width="0.3" textLength="26.79" lengthAdjust="spacingAndGlyphs">12:00</text>
<text x="437.10" y="633.0" font-size="11" fill="#4a4a4a" font-weight="bold" stroke="#4a4a4a" stroke-width="0.3" textLength="12.04" lengthAdjust="spacingAndGlyphs">15</text>
<text x="521.25" y="633.0" font-size="11" fill="#4c4c4c" stroke="#4c4c4c" stroke-width="0.3" textLength="26.79" lengthAdjust="spacingAndGlyphs">12:00</text>
<text x="621.90" y="633.0" font-size="11" fill="#4c4c4c" stroke="#4c4c4c" stroke-width="0.3" textLength="11.06" lengthAdjust="spacingAndGlyphs">16</text>
<text x="705.25" y="633.0" font-size="11" fill="#4c4c4c" stroke="#4c4c4c" stroke-width="0.3" textLength="26.79" lengthAdjust="spacingAndGlyphs">12:00</text>
<text x="805.50" y="633.0" font-size="11" fill="#4c4c4c" stroke="#4c4c4c" stroke-width="0.3" textLength="10.81" lengthAdjust="spacingAndGlyphs">17</text>
<text x="890.25" y="633.0" font-size="11" fill="#4c4c4c" stroke="#4c4c4c" stroke-width="0.3" textLength="26.79" lengthAdjust="spacingAndGlyphs">12:00</text>
<text x="991.10" y="633.0" font-size="11" fill="#4c4c4c" stroke="#4c4c4c" stroke-width="0.3" textLength="10.81" lengthAdjust="spacingAndGlyphs">18</text>
<text x="1074.25" y="633.0" font-size="11" fill="#4c4c4c" stroke="#4c4c4c" stroke-width="0.3" textLength="26.79" lengthAdjust="spacingAndGlyphs">12:00</text>
<text x="1175.10" y="633.0" font-size="11" fill="#4c4c4c" stroke="#4c4c4c" stroke-width="0.3" textLength="10.81" lengthAdjust="spacingAndGlyphs">19</text>
<text x="1259.25" y="633.0" font-size="11" fill="#4c4c4c" stroke="#4c4c4c" stroke-width="0.3" textLength="26.79" lengthAdjust="spacingAndGlyphs">12:00</text>
</g>
<g shape-rendering="crispEdges">
<rect x="1285" y="424" width="56" height="17" fill="#6ba583"/>
<rect x="1285" y="432" width="4" height="1" fill="#dcebe2"/>
<rect x="1301" y="442" width="40" height="17" fill="#6ba583"/>
</g>
<text x="1293.95" y="436.0" font-size="11" fill="#ffffff" stroke="#ffffff" stroke-width="0.3" textLength="38.78" lengthAdjust="spacingAndGlyphs">1.24407</text>
<text x="1304.90" y="454.0" font-size="11" fill="#ffffff" stroke="#ffffff" stroke-width="0.3" textLength="27.02" lengthAdjust="spacingAndGlyphs">22:05</text>
<text x="5.70" y="665.0" font-size="13.3" fill="#111111" stroke="#111111" stroke-width="0.3" textLength="73.27" lengthAdjust="spacingAndGlyphs">Created with</text>
<g>
<path d="M85.3 667 C83.3 667 81.9 664.6 81.9 662.1 C81.9 659.4 83.9 657.5 86.4 657.8 C86.9 654.7 89.6 652.4 92.8 652.4 C95.2 652.4 97.3 653.6 98.4 655 L102.2 657.6 C104.3 658.8 105.7 660.9 105.7 663.2 C105.7 665.5 104.3 667 102.3 667 Z" fill="#5bc4ea"/>
<polyline points="82.2,665.2 90.5,657.6 96.0,665.4 102.9,656.4" fill="none" stroke="#ffffff" stroke-width="1.6" stroke-linejoin="miter"/>
</g>
<text x="105.85" y="665.0" font-size="13.3" fill="#45b7e6" textLength="71.00" lengthAdjust="spacingAndGlyphs">TradingView</text>
</svg>
</body></html>
